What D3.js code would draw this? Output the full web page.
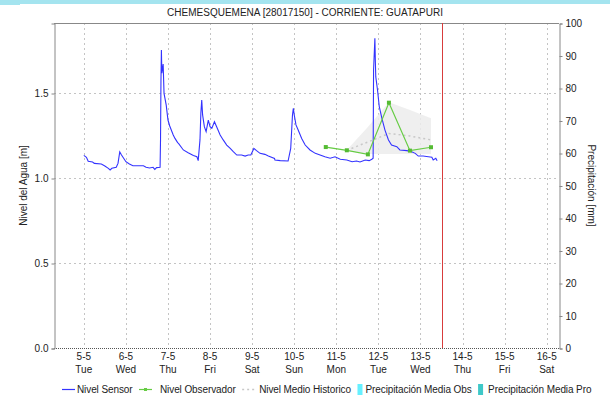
<!DOCTYPE html>
<html>
<head>
<meta charset="utf-8">
<script src="https://cdn.jsdelivr.net/npm/d3@7"></script>
<style>
  body { margin: 0; background: #fff; }
  svg { font-family: "Liberation Sans", Arial, sans-serif; }
  .tick text { fill: #222; font-size: 10px; }
  .label { font-size: 10px; fill: #222; }
  .legend text { letter-spacing: -0.1px; }
</style>
</head>
<body>
<svg width="610" height="401"></svg>
<script>
const title = 'CHEMESQUEMENA [28017150] - CORRIENTE: GUATAPURI'

// Nivel Sensor [m]
const sensorTimes = [
  '05-05 00:00','05-05 01:30','05-05 02:30','05-05 05:00','05-05 06:00','05-05 10:00','05-05 12:00',
  '05-05 14:00','05-05 15:00','05-05 16:00','05-05 18:30','05-05 19:30','05-05 20:30','05-05 21:30',
  '05-05 23:00','06-05 00:00','06-05 02:00','06-05 04:00','06-05 10:00','06-05 11:30','06-05 13:30',
  '06-05 15:30','06-05 16:30','06-05 17:30','06-05 19:30','06-05 19:45','06-05 20:00','06-05 20:15',
  '06-05 20:30','06-05 21:15','06-05 21:45','06-05 23:00','07-05 00:00','07-05 01:00','07-05 03:00',
  '07-05 04:00','07-05 05:30','07-05 06:00','07-05 08:45','07-05 11:30','07-05 14:30','07-05 16:30',
  '07-05 17:15','07-05 18:15','07-05 18:45','07-05 19:15','07-05 19:45','07-05 20:45','07-05 21:45',
  '07-05 23:00','08-05 00:00','08-05 01:00','08-05 02:30','08-05 03:45','08-05 05:45','08-05 07:30',
  '08-05 09:30','08-05 11:30','08-05 13:15','08-05 15:15','08-05 18:00','08-05 20:00','08-05 21:45',
  '08-05 23:15','09-05 01:00','09-05 02:30','09-05 04:30','09-05 07:15','09-05 09:15','09-05 12:45',
  '09-05 13:00','09-05 16:00','09-05 20:30','09-05 22:00','09-05 23:00','09-05 23:30','10-05 00:00',
  '10-05 01:00','10-05 02:15','10-05 04:15','10-05 06:15','10-05 09:00','10-05 12:00','10-05 14:45',
  '10-05 17:30','10-05 20:30','10-05 23:15','11-05 02:15','11-05 06:00','11-05 09:00','11-05 11:30',
  '11-05 13:30','11-05 16:30','11-05 18:45','11-05 20:15','11-05 21:00','11-05 21:15','11-05 22:00',
  '11-05 22:15','11-05 22:30','11-05 23:30','12-05 00:30','12-05 02:00','12-05 03:45','12-05 05:45',
  '12-05 07:30','12-05 10:30','12-05 12:15','12-05 16:15','12-05 19:00','12-05 21:00','12-05 22:45',
  '13-05 01:30','13-05 04:30','13-05 06:30','13-05 07:15','13-05 08:45','13-05 09:30'
]
const sensorValues = [
  1.133,1.122,1.098,1.094,1.086,1.082,1.071,
  1.057,1.047,1.057,1.063,1.086,1.153,1.135,
  1.112,1.096,1.082,1.072,1.072,1.063,1.059,
  1.063,1.051,1.061,1.063,1.224,1.573,1.753,
  1.616,1.670,1.498,1.429,1.341,1.306,1.253,
  1.233,1.208,1.204,1.165,1.149,1.133,1.125,
  1.102,1.224,1.380,1.459,1.371,1.302,1.273,
  1.341,1.302,1.292,1.331,1.302,1.253,1.224,
  1.194,1.174,1.155,1.135,1.135,1.129,1.135,
  1.135,1.174,1.161,1.145,1.139,1.129,1.115,
  1.106,1.102,1.100,1.174,1.371,1.410,1.371,
  1.312,1.282,1.233,1.194,1.165,1.145,1.135,
  1.125,1.116,1.125,1.110,1.106,1.096,1.100,
  1.094,1.106,1.102,1.110,1.116,1.635,1.822,
  1.694,1.596,1.518,1.420,1.351,1.282,1.224,
  1.194,1.184,1.165,1.161,1.155,1.145,1.129,
  1.129,1.125,1.122,1.106,1.116,1.102
]

// Nivel Observador [m]
const obsTimes = ['10-05 18:00','11-05 06:00','11-05 18:00','12-05 06:00','12-05 18:00','13-05 06:00']
const obsValues = [1.182, 1.163, 1.139, 1.443, 1.161, 1.181]

// Nivel Medio Historico [m] with min / max range
const histTimes = ['11-05 06:00','11-05 18:00','12-05 06:00','12-05 18:00','13-05 06:00']
const histMean = [1.163, 1.212, 1.262, 1.247, 1.224]
const histMin = [1.161, 1.141, 1.141, 1.141, 1.141]
const histMax = [1.165, 1.300, 1.445, 1.400, 1.352]

const nowTime = '13-05 12:00'
const dayTicks = ['05-05','06-05','07-05','08-05','09-05','10-05','11-05','12-05','13-05','14-05','15-05','16-05']
const dayNames = ['Tue','Wed','Thu','Fri','Sat','Sun','Mon','Tue','Wed','Thu','Fri','Sat']
const levelTicks = [0, 0.5, 1.0, 1.5]
const rainTicks = [0, 10, 20, 30, 40, 50, 60, 70, 80, 90, 100]

const parse = d3.timeParse('%d-%m %H:%M %Y')
const t = (s) => parse(s + (s.length === 5 ? ' 00:00' : '') + ' 2020')

const plotLeft = 54, plotRight = 559, plotTop = 23, plotBottom = 348

const svg = d3.select('svg')

svg.append('rect')
  .attr('x', 0).attr('y', 0).attr('width', 610).attr('height', 4)
  .attr('fill', '#a4e4ef')
svg.append('rect')
  .attr('x', 0).attr('y', 0).attr('width', 20).attr('height', 5)
  .attr('fill', '#a4e4ef')

svg.append('text')
  .attr('x', 305).attr('y', 16)
  .attr('text-anchor', 'middle')
  .style('font-size', '10px')
  .attr('fill', '#222')
  .text(title)

const xScale = d3.scaleTime()
  .domain([t('04-05 07:00'), t('16-05 07:00')])
  .range([plotLeft, plotRight])

const yScale = d3.scaleLinear()
  .domain([0, (plotBottom - plotTop) / 170])
  .range([plotBottom, plotTop])

const rainScale = d3.scaleLinear()
  .domain([0, 100])
  .range([plotBottom, plotTop])

// grid
svg.append('g')
  .selectAll('line')
  .data(dayTicks)
  .enter()
  .append('line')
  .attr('x1', (d) => Math.round(xScale(t(d))) + 0.5)
  .attr('x2', (d) => Math.round(xScale(t(d))) + 0.5)
  .attr('y1', plotTop).attr('y2', plotBottom)
  .attr('stroke', '#c4c4c4')
  .attr('stroke-dasharray', '2,3')

svg.append('g')
  .selectAll('line')
  .data(levelTicks.slice(1))
  .enter()
  .append('line')
  .attr('x1', plotLeft).attr('x2', plotRight)
  .attr('y1', (d) => Math.round(yScale(d)) + 0.5)
  .attr('y2', (d) => Math.round(yScale(d)) + 0.5)
  .attr('stroke', '#c4c4c4')
  .attr('stroke-dasharray', '2,3')

// frame
svg.append('line')
  .attr('x1', plotLeft).attr('x2', plotRight).attr('y1', plotTop + 0.5).attr('y2', plotTop + 0.5)
  .attr('stroke', '#888')
svg.append('line')
  .attr('x1', plotLeft).attr('x2', plotRight).attr('y1', plotBottom + 0.5).attr('y2', plotBottom + 0.5)
  .attr('stroke', '#555')
  .attr('stroke-dasharray', '1,1')

// historic range + mean
const histData = histTimes.map((d, i) => ({ time: t(d), mean: histMean[i], min: histMin[i], max: histMax[i] }))

svg.append('path')
  .datum(histData)
  .attr('fill', '#ececec')
  .attr('fill-opacity', 0.85)
  .attr('d', d3.area()
    .x((d) => xScale(d.time))
    .y0((d) => yScale(d.min))
    .y1((d) => yScale(d.max)))

svg.append('path')
  .datum(histData)
  .attr('fill', 'none')
  .attr('stroke', '#c8c8c8')
  .attr('stroke-width', 1.5)
  .attr('stroke-dasharray', '2,3')
  .attr('d', d3.line()
    .x((d) => xScale(d.time))
    .y((d) => yScale(d.mean)))

// sensor
const sensorData = sensorTimes.map((d, i) => ({ time: t(d), value: sensorValues[i] }))

svg.append('path')
  .datum(sensorData)
  .attr('fill', 'none')
  .attr('stroke', '#3333ff')
  .attr('stroke-width', 1.1)
  .attr('d', d3.line()
    .x((d) => xScale(d.time))
    .y((d) => yScale(d.value)))

// observer
const obsData = obsTimes.map((d, i) => ({ time: t(d), value: obsValues[i] }))

svg.append('path')
  .datum(obsData)
  .attr('fill', 'none')
  .attr('stroke', '#66cc44')
  .attr('stroke-width', 1.2)
  .attr('d', d3.line()
    .x((d) => xScale(d.time))
    .y((d) => yScale(d.value)))

svg.append('g')
  .selectAll('rect')
  .data(obsData)
  .enter()
  .append('rect')
  .attr('x', (d) => xScale(d.time) - 2)
  .attr('y', (d) => yScale(d.value) - 2)
  .attr('width', 4).attr('height', 4)
  .attr('fill', '#55bb33')

// now line
svg.append('line')
  .attr('x1', Math.round(xScale(t(nowTime))) + 0.5)
  .attr('x2', Math.round(xScale(t(nowTime))) + 0.5)
  .attr('y1', plotTop).attr('y2', plotBottom)
  .attr('stroke', '#d83c3c')

// axes
const leftAxis = svg.append('g')
  .attr('transform', `translate(${plotLeft + 0.5}, 0.5)`)
  .call(d3.axisLeft(yScale).tickValues(levelTicks).tickFormat(d3.format('.1f')).tickSize(3).tickPadding(3))
leftAxis.select('.domain').attr('stroke', '#888')
leftAxis.selectAll('.tick line').attr('stroke', '#888')

const rightAxis = svg.append('g')
  .attr('transform', `translate(${plotRight + 0.5}, 0.5)`)
  .call(d3.axisRight(rainScale).tickValues(rainTicks).tickSize(3).tickPadding(3))
rightAxis.select('.domain').attr('stroke', '#888')
rightAxis.selectAll('.tick line').attr('stroke', '#888')

const xLabels = svg.append('g')
  .selectAll('text')
  .data(dayTicks)
  .enter()
  .append('text')
  .attr('class', 'label')
  .attr('text-anchor', 'middle')
  .attr('x', (d) => xScale(t(d)))
  .attr('y', 360)
xLabels.append('tspan').text((d) => d.replace(/^0/, '').replace('-0', '-'))
xLabels.append('tspan')
  .attr('x', (d) => xScale(t(d)))
  .attr('dy', 13)
  .text((d, i) => dayNames[i])

svg.append('text')
  .attr('class', 'label')
  .attr('transform', `translate(27, ${(plotTop + plotBottom) / 2}) rotate(-90)`)
  .attr('text-anchor', 'middle')
  .text('Nivel del Agua [m]')

svg.append('text')
  .attr('class', 'label')
  .attr('transform', `translate(588, ${(plotTop + plotBottom) / 2}) rotate(90)`)
  .attr('text-anchor', 'middle')
  .text('Precipitación [mm]')

// legend
const legendItems = [
  { name: 'Nivel Sensor', type: 'line', color: '#3333ff', pad: 15 },
  { name: 'Nivel Observador', type: 'marker', color: '#66cc44', pad: 21 },
  { name: 'Nivel Medio Historico', type: 'dash', color: '#c8c8c8', pad: 17 },
  { name: 'Precipitación Media Obs', type: 'box', color: '#66f0ff', pad: 8 },
  { name: 'Precipitación Media Pro', type: 'box', color: '#3ec8c8', pad: 10 }
]

const legend = svg.append('g').attr('class', 'legend')
let lx = 62
const ly = 393
legendItems.forEach((item) => {
  const g = legend.append('g')
  if (item.type === 'box') {
    g.append('rect').attr('x', lx).attr('y', ly - 9).attr('width', 5).attr('height', 11).attr('fill', item.color)
  } else {
    g.append('line')
      .attr('x1', lx).attr('x2', lx + 13).attr('y1', ly - 3.5).attr('y2', ly - 3.5)
      .attr('stroke', item.color)
      .attr('stroke-width', item.type === 'dash' ? 1.5 : 1.2)
      .attr('stroke-dasharray', item.type === 'dash' ? '2,3' : null)
    if (item.type === 'marker') {
      g.append('rect').attr('x', lx + 5).attr('y', ly - 5).attr('width', 3).attr('height', 3).attr('fill', item.color)
    }
  }
  lx += item.pad
  const txt = g.append('text')
    .attr('class', 'label')
    .attr('x', lx).attr('y', ly)
    .text(item.name)
  lx += txt.node().getComputedTextLength() + 6.5
})
</script>
</body>
</html>
